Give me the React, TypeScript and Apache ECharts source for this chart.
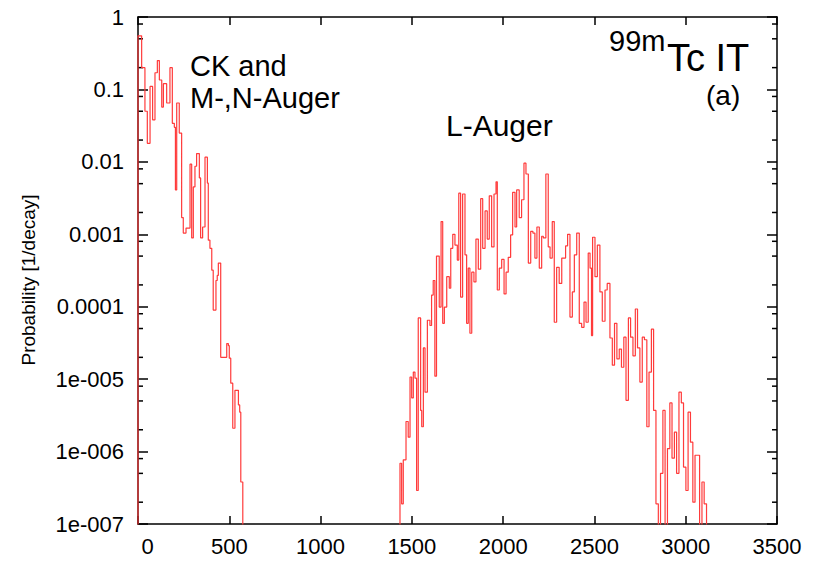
import React, { useEffect, useRef } from "react";
import * as echarts from "echarts";

// ---- data (energies in eV = start of each histogram step, probability per decay) ----
const lowEnergies = [
  0, 20, 38, 51, 66, 80, 93, 106, 117, 130, 139, 157, 175, 188, 199, 205, 212, 226, 239, 248,
  263, 285, 294, 303, 312, 321, 336, 343, 354, 367, 380, 385, 394, 404, 412, 427, 434, 440, 453, 486,
  495, 500, 508, 519, 531, 550, 557, 563, 574,
];
const lowProbs = [
  0.55, 0.2, 0.05, 0.018, 0.11, 0.038, 0.17, 0.25, 0.135, 0.057, 0.12, 0.065, 0.2, 0.034, 0.03, 0.0041, 0.065, 0.025, 0.0017, 0.00104,
  0.00122, 0.0093, 0.00089, 0.0045, 0.0087, 0.013, 0.006, 0.00089, 0.00126, 0.0116, 0.0051, 0.00083, 0.00064, 0.00032, 0.00009, 0.00023, 0.00027, 0.0004, 2.0e-5, 3.1e-5,
  2.9e-5, 1.95e-5, 8.8e-6, 2.1e-6, 7e-6, 4.4e-6, 3.5e-6, 3.8e-7, 0,
];

const lAugerEnergies = [
  1435, 1444, 1453, 1468, 1480, 1490, 1499, 1508, 1517, 1526, 1535, 1548, 1554, 1563, 1572, 1585, 1599, 1608, 1617, 1626,
  1635, 1650, 1660, 1669, 1678, 1691, 1705, 1713, 1724, 1736, 1749, 1757, 1767, 1778, 1791, 1800, 1809, 1818, 1828, 1840,
  1851, 1864, 1877, 1888, 1901, 1913, 1924, 1937, 1950, 1961, 1968, 1979, 1992, 2005, 2016, 2028, 2041, 2052, 2065, 2074,
  2088, 2101, 2114, 2125, 2138, 2151, 2163, 2174, 2185, 2198, 2211, 2220, 2234, 2247, 2257, 2269, 2280, 2293, 2307, 2321,
  2342, 2353, 2366, 2379, 2390, 2403, 2417, 2430, 2443, 2454, 2466, 2476, 2484, 2490, 2503, 2516, 2530, 2543, 2558, 2570,
  2585, 2598, 2610, 2623, 2636, 2648, 2661, 2673, 2686, 2698, 2711, 2724, 2736, 2749, 2762, 2774, 2787, 2799, 2812, 2824,
  2837, 2850, 2862, 2875, 2887, 2900, 2913, 2925, 2938, 2950, 2963, 2976, 2988, 3001, 3013, 3026, 3039, 3051, 3064, 3076,
  3089, 3101, 3114,
];
const lAugerProbs = [
  6.9e-7, 1.9e-7, 7.7e-7, 2.6e-6, 1.58e-6, 1.07e-5, 5.5e-6, 1.25e-5, 1.03e-5, 2.9e-7, 7e-5, 3.7e-6, 2.2e-6, 2.7e-5, 6.6e-6, 6.5e-5, 5.5e-5, 1.45e-4, 2.3e-4, 1.1e-5,
  5.0e-4, 9.9e-5, 1.5e-3, 5.9e-5, 9.9e-5, 2.6e-4, 1.8e-4, 6.4e-4, 1.0e-3, 7.1e-4, 4.4e-4, 3.7e-3, 1.36e-4, 3.6e-3, 5.2e-4, 5.9e-5, 3.4e-4, 4.3e-5, 3.0e-4, 2.2e-4,
  8.6e-4, 3.3e-4, 3.1e-3, 6.4e-4, 2.1e-3, 8.6e-4, 3.4e-3, 6.7e-4, 3.6e-3, 5.3e-3, 1.7e-4, 3.4e-4, 4.5e-4, 1.5e-4, 3.0e-4, 4.8e-4, 9.8e-4, 3.8e-3, 1.26e-3, 4.1e-3,
  1.7e-3, 3.0e-3, 9.6e-3, 6.8e-3, 4.0e-4, 1.1e-3, 1.04e-3, 4.7e-4, 1.26e-3, 3.4e-4, 9.4e-4, 8.9e-4, 6.8e-3, 6.7e-4, 4.7e-4, 1.5e-3, 6.1e-5, 3.5e-4, 2.1e-4, 4.7e-4,
  6.9e-4, 1.0e-3, 7.2e-5, 1.6e-4, 5.2e-4, 1.04e-3, 5.9e-5, 5.2e-5, 1.16e-4, 6.1e-5, 5.5e-4, 3.4e-4, 4.0e-5, 9.1e-4, 2.6e-4, 7.1e-4, 1.6e-4, 6.3e-5, 1.7e-4, 2.1e-4,
  3.7e-5, 1.56e-5, 5.9e-5, 1.9e-5, 2.6e-5, 1.46e-5, 3.8e-5, 5.1e-6, 7.0e-5, 3.8e-5, 2.1e-5, 9.3e-5, 2.7e-5, 9.1e-6, 3.8e-5, 3.5e-5, 2.2e-6, 1.25e-5, 4.9e-5, 3.7e-6,
  1.9e-7, 0, 5e-7, 3.7e-6, 0, 1.1e-6, 4.7e-6, 8.1e-7, 1.85e-6, 5e-7, 6.6e-6, 4.7e-6, 6.1e-7, 2.9e-7, 3.5e-6, 1.35e-6, 2e-7, 8.9e-7, 8.9e-7, 0,
  3.8e-7, 1.9e-7, 0,
];

const xTickLabels = ["0", "500", "1000", "1500", "2000", "2500", "3000", "3500"];
const yTickLabels = ["1e-007", "1e-006", "1e-005", "0.0001", "0.001", "0.01", "0.1", "1"];
const minorTickMantissas = [2, 5, 8];

const X_MIN = 0;
const X_MAX = 3500;
const X_STEP = 500;
const Y_MIN = 1e-7;
const Y_MAX = 1;
const FLOOR = 1e-12; // stands in for zero on the log axis (clipped below the plot)

const FONT = "'Liberation Sans', Arial, Helvetica, sans-serif";
const LINE_COLOR = "#ff3b3b";

function buildSteps(): [number, number][] {
  const pts: [number, number][] = [[lowEnergies[0], FLOOR]];
  const add = (es: number[], ps: number[]) =>
    es.forEach((e, i) => pts.push([e, ps[i] > 0 ? ps[i] : FLOOR]));
  add(lowEnergies, lowProbs);
  add(lAugerEnergies, lAugerProbs);
  return pts;
}

function minorTickValues(): number[] {
  const out: number[] = [];
  for (let e = Math.round(Math.log10(Y_MIN)); e < Math.round(Math.log10(Y_MAX)); e++) {
    minorTickMantissas.forEach((m) => out.push(m * Math.pow(10, e)));
  }
  return out;
}

export default function App() {
  const ref = useRef<HTMLDivElement>(null);

  useEffect(() => {
    if (!ref.current) return;
    const chart = echarts.init(ref.current, undefined, { renderer: "svg" });
    const axisLine = { show: true, onZero: false, lineStyle: { color: "#000", width: 1.5 } };
    const tickStyle = { color: "#000", width: 1.5 };

    const option: any = {
      animation: false,
      backgroundColor: "#fff",
      grid: { left: 138, right: 40, top: 17, bottom: 39, containLabel: false },
      xAxis: [
        {
          type: "value",
          min: X_MIN,
          max: X_MAX,
          interval: X_STEP,
          position: "bottom",
          axisLine,
          axisTick: { show: true, inside: true, length: 8, lineStyle: tickStyle },
          axisLabel: {
            color: "#000",
            fontSize: 22,
            fontFamily: FONT,
            margin: 11,
            formatter: (v: number) => {
              const s = xTickLabels[Math.round((v - X_MIN) / X_STEP)];
              return v === X_MIN ? "{zero|" + s + "}" : s;
            },
            rich: { zero: { color: "#000", fontSize: 22, fontFamily: FONT, padding: [0, 0, 0, 19] } },
          },
          splitLine: { show: false },
        },
        {
          type: "value",
          min: X_MIN,
          max: X_MAX,
          interval: X_STEP,
          position: "top",
          axisLine,
          axisTick: { show: true, inside: true, length: 8, lineStyle: tickStyle },
          axisLabel: { show: false },
          splitLine: { show: false },
        },
      ],
      yAxis: [
        {
          type: "log",
          logBase: 10,
          min: Y_MIN,
          max: Y_MAX,
          splitNumber: 7,
          position: "left",
          axisLine,
          axisTick: { show: true, inside: true, length: 10, lineStyle: tickStyle },
          axisLabel: {
            color: "#000",
            fontSize: 22,
            fontFamily: FONT,
            margin: 14,
            formatter: (v: number) => yTickLabels[Math.round(Math.log10(v)) + 7] ?? "",
          },
          splitLine: { show: false },
          name: "Probability [1/decay]",
          nameLocation: "middle",
          nameGap: 100,
          nameTextStyle: { color: "#000", fontSize: 19, fontFamily: FONT, padding: [0, 19, 0, 0] },
        },
        {
          type: "log",
          logBase: 10,
          min: Y_MIN,
          max: Y_MAX,
          splitNumber: 7,
          position: "right",
          axisLine,
          axisTick: { show: true, inside: true, length: 10, lineStyle: tickStyle },
          axisLabel: { show: false },
          splitLine: { show: false },
        },
      ],
      series: [
        {
          type: "line",
          xAxisIndex: 0,
          yAxisIndex: 0,
          step: "end",
          showSymbol: false,
          symbol: "none",
          clip: true,
          lineStyle: { color: LINE_COLOR, width: 1.2 },
          data: buildSteps(),
        },
        {
          type: "custom",
          xAxisIndex: 0,
          yAxisIndex: 0,
          silent: true,
          clip: false,
          data: minorTickValues().map((v) => [X_MIN, v]),
          renderItem: (_p: any, api: any) => {
            const v = api.value(1);
            const l = api.coord([X_MIN, v]);
            const r = api.coord([X_MAX, v]);
            return {
              type: "group",
              children: [
                { type: "line", shape: { x1: l[0], y1: l[1], x2: l[0] + 5, y2: l[1] }, style: { stroke: "#000", lineWidth: 1.5 } },
                { type: "line", shape: { x1: r[0] - 5, y1: r[1], x2: r[0], y2: r[1] }, style: { stroke: "#000", lineWidth: 1.5 } },
              ],
            };
          },
        },
      ],
      graphic: [
        { type: "text", left: 190, top: 51, style: { text: "CK and", font: `29px ${FONT}`, fill: "#000" } },
        { type: "text", left: 190, top: 83, style: { text: "M-,N-Auger", font: `29px ${FONT}`, fill: "#000" } },
        { type: "text", left: 446, top: 110, style: { text: "L-Auger", font: `30px ${FONT}`, fill: "#000" } },
        { type: "text", left: 609, top: 26, style: { text: "99m", font: `29px ${FONT}`, fill: "#000" } },
        { type: "text", left: 667, top: 39, style: { text: "Tc IT", font: `38px ${FONT}`, fill: "#000" } },
        { type: "text", left: 706, top: 81, style: { text: "(a)", font: `28px ${FONT}`, fill: "#000" } },
      ],
    };
    chart.setOption(option);
    return () => chart.dispose();
  }, []);

  return (
    <div
      ref={ref}
      style={{ position: "fixed", left: 0, top: 0, width: 817, height: 563, background: "#fff" }}
    />
  );
}
